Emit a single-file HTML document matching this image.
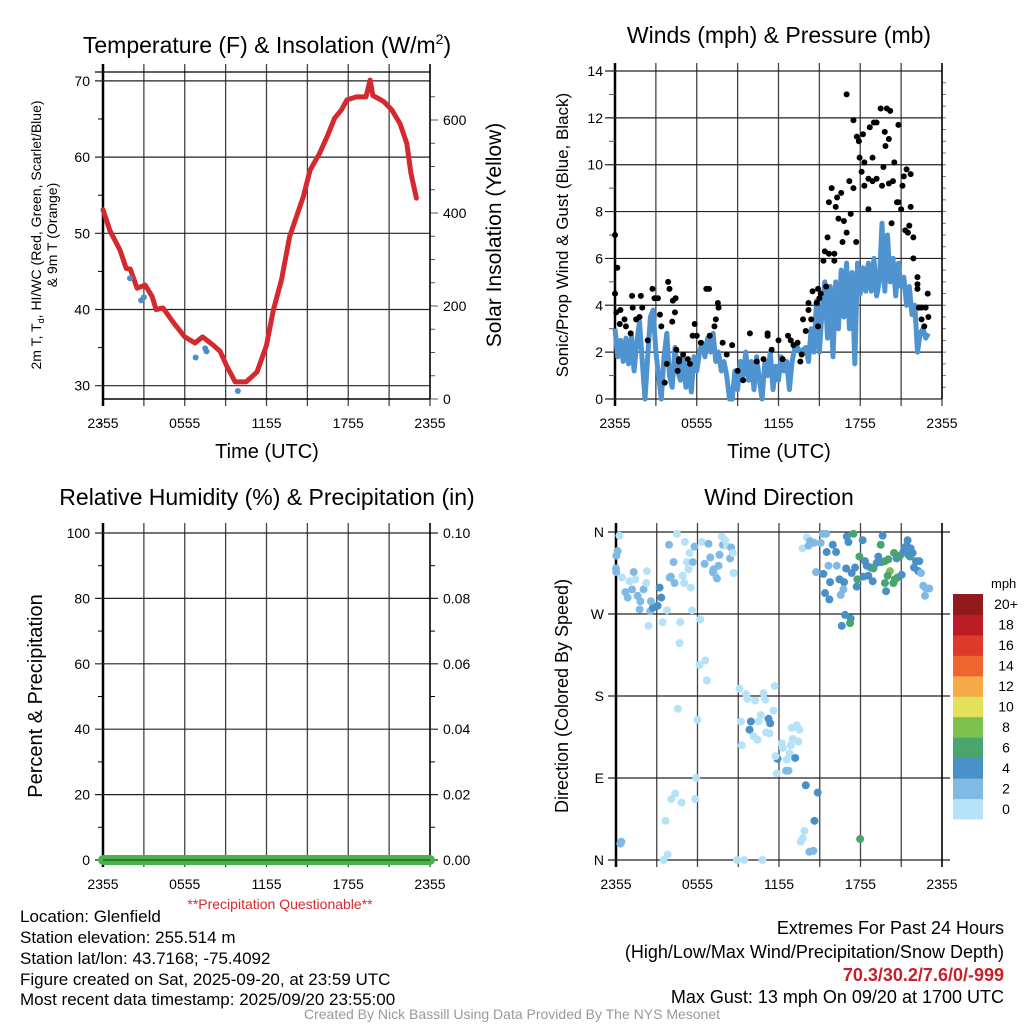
<!DOCTYPE html>
<html><head><meta charset="utf-8"><style>
body{margin:0;background:#fff;width:1024px;height:1024px;overflow:hidden}
svg text{font-family:"Liberation Sans",sans-serif;fill:#000}
</style></head><body>
<svg id="s" width="1024" height="1024" viewBox="0 0 1024 1024" xmlns="http://www.w3.org/2000/svg">
<text x="267" y="53" font-size="23" text-anchor="middle">Temperature (F) &amp; Insolation (W/m<tspan font-size="14" dy="-9">2</tspan><tspan dy="9">)</tspan></text>
<text x="779" y="43" font-size="23" text-anchor="middle">Winds (mph) &amp; Pressure (mb)</text>
<text x="267" y="505" font-size="23" text-anchor="middle">Relative Humidity (%) &amp; Precipitation (in)</text>
<text x="779" y="505" font-size="23" text-anchor="middle">Wind Direction</text>
<text transform="translate(41,235) rotate(-90)" font-size="14" text-anchor="middle">2m T, T<tspan font-size="9" dy="3">d</tspan><tspan dy="-3">, HI/WC (Red, Green, Scarlet/Blue)</tspan></text>
<text transform="translate(57,235) rotate(-90)" font-size="14" text-anchor="middle">&amp; 9m T (Orange)</text>
<text transform="translate(501,235) rotate(-90)" font-size="21" text-anchor="middle">Solar Insolation (Yellow)</text>
<text transform="translate(568,235) rotate(-90)" font-size="17" text-anchor="middle">Sonic/Prop Wind &amp; Gust (Blue, Black)</text>
<text transform="translate(42,696) rotate(-90)" font-size="20" text-anchor="middle">Percent &amp; Precipitation</text>
<text transform="translate(568,696) rotate(-90)" font-size="18" text-anchor="middle">Direction (Colored By Speed)</text>
<text x="267" y="458" font-size="20" text-anchor="middle">Time (UTC)</text>
<text x="779" y="458" font-size="20" text-anchor="middle">Time (UTC)</text>
<text x="280" y="909" font-size="14" style="fill:#d42a2f" text-anchor="middle">**Precipitation Questionable**</text>
<g font-size="17">
<text x="20" y="922">Location: Glenfield</text>
<text x="20" y="943">Station elevation: 255.514 m</text>
<text x="20" y="964">Station lat/lon: 43.7168; -75.4092</text>
<text x="20" y="985">Figure created on Sat, 2025-09-20, at 23:59 UTC</text>
<text x="20" y="1005">Most recent data timestamp: 2025/09/20 23:55:00</text>
</g>
<g font-size="18" text-anchor="end">
<text x="1004" y="934">Extremes For Past 24 Hours</text>
<text x="1004" y="958">(High/Low/Max Wind/Precipitation/Snow Depth)</text>
<text x="1004" y="981" font-weight="bold" style="fill:#c8202a">70.3/30.2/7.6/0/-999</text>
<text x="1004" y="1003">Max Gust: 13 mph On 09/20 at 1700 UTC</text>
</g>
<text x="512" y="1019" font-size="14" text-anchor="middle" style="fill:#999">Created By Nick Bassill Using Data Provided By The NYS Mesonet</text>
</svg>
<script>
// ---- data ----
const tempHours=[0,0.5,1.25,1.7,2.0,2.5,3.1,3.6,3.9,4.4,5.2,6.0,6.75,7.3,8.1,8.6,9.1,9.7,10.5,11.3,12.0,12.5,13.1,13.7,14.2,14.7,15.2,15.9,16.5,17.0,17.5,17.9,18.6,19.3,19.6,19.8,20.6,21.2,21.8,22.3,22.6,23.0];
const tempVals=[53.1,50.4,47.8,45.4,45.3,42.8,43.2,41.7,40.0,40.2,38.2,36.4,35.6,36.4,35.3,34.5,32.5,30.5,30.5,31.8,35.3,39.9,43.9,49.6,52.2,54.8,58.3,60.5,62.9,65.1,66.2,67.5,67.9,67.9,70.1,68.1,67.3,66.2,64.4,61.8,57.9,54.6];
const wcHours=[1.98,2.8,3.0,6.8,7.5,7.6,9.9];
const wcVals=[44.1,41.2,41.6,33.7,34.9,34.5,29.3];
const tempTicks=[30,40,50,60,70];
const insolTicks=[0,200,400,600];
const timeLabels=["2355","0555","1155","1755","2355"];
const windHours=[0,0.2,0.4,0.6,0.8,1.0,1.2,1.4,1.6,1.8,2.0,2.2,2.4,2.6,2.8,3.0,3.2,3.4,3.6,3.8,4.0,4.2,4.4,4.6,4.8,5.0,5.2,5.4,5.6,5.8,6.0,6.2,6.4,6.6,6.8,7.0,7.2,7.4,7.6,7.8,8.0,8.2,8.4,8.6,8.8,9.0,9.2,9.4,9.6,9.8,10.0,10.2,10.4,10.6,10.8,11.0,11.2,11.4,11.6,11.8,12.0,12.2,12.4,12.6,12.8,13.0,13.2,13.4,13.6,14.0,14.2,14.4,14.6,14.8,15.0,15.2,15.4,15.6,15.8,16.0,16.2,16.4,16.6,16.8,17.0,17.2,17.4,17.6,17.8,18.0,18.2,18.4,18.6,18.8,19.0,19.2,19.4,19.6,19.8,20.0,20.2,20.4,20.6,20.8,21.0,21.2,21.4,21.6,21.8,22.0,22.2,22.4,22.6,22.8,23.0];
const windVals=[3.0,1.8,2.5,1.6,2.6,1.5,2.7,1.2,2.4,3.3,1.6,0.0,1.8,3.5,3.8,2.0,1.0,0.0,1.8,2.8,1.0,0.5,2.2,1.2,0.8,1.8,0.5,1.5,0.3,1.8,1.2,2.0,2.4,1.8,2.6,2.0,2.8,1.6,2.0,1.2,1.6,1.0,0.0,0.0,1.2,0.4,1.6,1.0,2.0,0.8,1.6,0.4,1.8,0.8,0.0,1.6,1.0,2.0,0.4,1.4,0.8,1.8,1.2,1.6,0.4,1.6,2.2,2.2,2.0,2.2,1.6,3.0,2.0,4.2,2.0,3.8,5.0,2.6,4.8,1.8,5.0,3.0,5.5,3.5,5.8,3.0,5.4,1.5,5.8,4.5,5.6,4.6,5.8,4.6,6.0,4.4,5.0,7.5,4.6,7.0,5.0,6.0,4.4,5.8,4.8,5.2,4.0,4.8,3.6,4.0,2.0,2.8,3.0,2.6,2.8];
const gustHours=[0,0.17,0,0.1,0.4,0.35,0.7,0.8,1.25,1.3,1.15,1.55,1.9,2.0,1.8,2.75,2.9,3.15,3.3,3.4,2.4,3.9,4.0,4.25,4.45,4.4,4.2,4.5,4.7,5.0,4.7,5.35,5.5,3.8,3.65,4.6,5.85,6.0,5.7,6.3,6.7,6.9,6.95,7.3,7.4,7.55,7.6,7.9,8.2,8.6,9.0,9.4,9.9,10.4,10.9,11.2,11.2,11.5,12.0,12.3,12.7,12.9,13.1,13.4,13.7,13.6,13.8,14.0,14.2,14.2,14.5,14.9,15.1,15.0,15.5,14.8,14.9,14.4,15.3,15.4,15.6,15.7,16.1,16.1,15.7,15.9,16.2,16.3,16.4,16.6,16.8,17.0,16.7,17.0,17.2,17.3,17.5,17.7,17.5,17.75,17.9,17.95,18.2,18.3,18.1,18.3,18.6,18.6,18.7,18.9,19.0,19.2,18.9,19.2,19.5,19.6,19.7,19.8,19.85,19.95,20.1,20.1,20.2,20.3,20.4,20.5,20.7,20.8,20.8,21.0,21.1,21.2,21.4,21.3,21.5,21.6,21.7,21.7,21.9,21.9,22.2,22.2,22.2,22.95,22.3,22.5,22.8,22.5,23.0,22.7];
const gustVals=[7.0,5.6,4.5,3.7,3.8,3.2,3.4,3.1,4.4,3.9,2.8,3.4,4.4,3.9,3.5,4.7,4.3,4.3,3.6,3.1,2.5,5.0,4.7,4.2,4.3,3.7,3.3,2.1,1.7,1.9,1.6,1.7,1.5,1.5,0.7,1.2,3.2,2.7,2.7,2.4,4.7,4.7,2.7,3.1,3.4,4.1,3.9,2.4,1.9,2.3,1.2,0.8,2.8,1.6,1.7,2.8,2.7,2.1,2.5,1.7,2.7,2.5,2.3,2.4,1.9,1.6,3.4,2.9,3.8,4.1,4.6,4.7,4.5,4.3,4.8,4.1,3.1,3.4,5.9,6.3,6.9,6.2,5.9,6.2,8.4,9.0,8.2,8.6,7.7,8.8,7.6,7.1,6.7,13.0,9.3,7.9,9.0,6.7,11.9,11.2,11.0,10.3,11.3,10.1,9.7,9.1,9.4,8.1,11.6,10.3,11.8,11.8,9.3,9.4,12.4,9.1,9.9,11.4,10.8,12.4,11.1,9.2,12.3,7.5,9.3,10.1,8.4,11.7,8.4,8.1,9.1,9.5,9.8,7.2,7.1,7.4,9.6,8.2,6.9,6.0,5.2,4.9,4.7,4.5,3.9,3.9,3.9,3.4,3.5,3.1];
const windTicks=[0,2,4,6,8,10,12,14];
const dirHours=[0.25,0.12,0.02,0,0.02,0.44,1.0,1.3,1.42,0.69,0.86,1.18,1.59,1.79,1.74,2.03,2.28,2.23,2.52,2.72,3.06,2.57,3.33,3.21,2.4,3.43,3.75,3.95,4.04,4.31,4.24,3.9,4.49,4.73,4.68,5.07,5.22,5.34,5.51,5.59,4.9,5.02,5.42,5.66,5.78,6.2,6.32,6.52,6.57,6.15,6.69,6.81,6.94,7.18,7.3,7.43,7.13,7.55,7.62,7.79,7.87,8.04,8.16,8.4,8.48,8.6,8.65,4.56,6.0,5.91,5.83,4.36,4.07,4.83,3.65,3.8,3.5,0.32,0.39,9.09,9.58,9.68,10.25,10.86,10.98,11.69,11.59,10.66,10.49,9.93,9.83,9.19,10.12,10.42,11.23,11.35,11.3,11.05,9.26,12.2,12.28,12.77,12.87,13.31,13.5,12.94,13.01,13.43,13.19,12.57,11.89,11.74,11.84,12.52,12.7,13.97,14.85,14.61,13.87,13.75,13.6,14.24,14.53,8.9,9.44,10.78,17.97,13.73,14.04,14.29,14.58,14.17,15.07,15.22,15.47,15.51,15.96,16.2,14.73,15.27,15.64,16.25,15.76,16.45,16.79,16.74,16.54,15.39,15.71,16.99,17.11,17.48,18.16,17.92,17.6,17.35,17.77,17.72,16.94,16.86,17.28,16.62,17.23,18.33,18.46,18.75,18.95,18.21,18.58,18.9,19.19,19.31,19.49,19.63,19.56,19.8,20.05,20.17,20.0,19.8,19.88,20.42,20.47,20.66,20.54,20.71,20.91,21.03,21.15,21.27,21.47,21.64,21.69,21.84,21.94,22.08,22.33,22.25,22.45,22.62,22.82,23.06,22.75,21.4,21.52];
const dirDegs=[356,339,334,320,316,310,306,316,308,294,288,297,290,284,275,297,317,304,273,277,279,284,288,299,257,261,274,310,311,304,327,346,358,261,238,349,327,319,299,274,312,304,337,327,344,264,349,325,219,214,197,347,332,319,313,309,316,323,335,355,346,351,345,331,343,337,315,166,154,90,67,73,67,63,43,6,0,18,20,188,182,177,175,183,176,191,164,159,152,152,143,152,136,132,155,150,139,140,126,128,123,117,126,148,143,145,133,130,112,110,111,114,95,98,98,82,74,43,32,24,20,9,10,0,0,0,23,342,354,350,348,345,348,358,358,338,346,338,316,314,323,323,305,308,305,297,291,293,286,355,349,358,351,333,321,315,308,300,320,269,265,257,260,328,323,321,320,311,312,306,326,333,346,356,327,328,330,317,312,304,295,304,337,331,308,310,334,313,338,343,351,333,342,337,321,328,328,317,315,301,298,298,290,345,335];
const dirSpeeds=[1,3,3,3,3,1,1,3,1,3,3,3,3,3,3,3,1,1,3,5,5,3,5,5,1,1,1,3,3,3,3,3,1,1,1,1,1,1,1,1,1,1,1,3,3,1,1,3,1,1,1,3,3,3,1,3,3,3,3,1,3,1,1,3,3,1,1,1,1,1,1,1,1,1,1,1,1,3,3,1,1,1,1,1,1,1,1,1,1,5,5,1,1,1,5,5,1,1,1,1,1,1,1,1,1,1,1,1,5,1,5,1,1,3,3,5,5,5,1,1,1,3,3,1,1,1,7,1,1,3,3,3,3,3,3,5,5,5,3,5,3,3,5,5,5,3,3,5,5,5,5,7,5,7,5,5,7,5,5,5,5,5,7,5,5,5,7,5,5,5,5,5,7,5,5,7,7,9,7,7,5,7,7,5,7,7,7,5,5,5,5,7,5,5,5,5,5,5,3,3,3,3,3,5,5];
const dirTicks=["N","E","S","W","N"];
const speedLabels=["0","2","4","6","8","10","12","14","16","18","20+"];
const rhTicks=[0,20,40,60,80,100];
const precipTicks=["0.00","0.02","0.04","0.06","0.08","0.10"];
</script>
<script>
const NS="http://www.w3.org/2000/svg";
const svg=document.getElementById('s');
function mk(tag,attrs,parent){const e=document.createElementNS(NS,tag);for(const k in attrs)e.setAttribute(k,attrs[k]);(parent||svg).appendChild(e);return e;}
const speedColors=["#b5e2f8","#7fb9e4","#4a90c8","#48a56e","#7cc04e","#e5e05a","#f5a947","#ef6530","#de3a2c","#bc1c24","#921a1c"];
function colorFor(s){return speedColors[Math.min(10,Math.floor(s/2))];}

function panel(name,x0,x1,yTop,yBot,gridTop){
  const g=mk('g',{});
  
  
  const xs=h=>x0+(x1-x0)*h/24;
  for(let i=0;i<=8;i++){
    const x=xs(i*3);
    const l=mk('line',{x1:x,x2:x,y1:gridTop,y2:yBot+7,stroke:i==0?'#000':'#444','stroke-width':i==0?2.5:1.3},g);
    
    
  }
  for(let i=0;i<5;i++){
    const t=mk('text',{x:xs(i*6),y:yBot+29,'font-size':14,'text-anchor':'middle'},g);
    t.textContent=timeLabels[i];
    
    
  }
  return {g,xs};
}

// ---- Panel 1: temperature ----
{
  const x0=103,x1=430,yTop=72,yBot=399;
  const {g,xs}=panel('temperature-chart',x0,x1,yTop,yBot,yTop-8);
  const ty=v=>385.7-(v-30)*7.62;
  const iy=v=>399-v*0.465;
  mk('line',{x1:x0-8,x2:x1,y1:yTop,y2:yTop,stroke:'#000','stroke-width':1.3},g);
  mk('line',{x1:x0,x2:x1,y1:yBot,y2:yBot,stroke:'#000','stroke-width':1.5},g);
  tempTicks.forEach(v=>{
    const y=ty(v);
    mk('line',{x1:x0-8,x2:x1,y1:y,y2:y,stroke:'#222','stroke-width':1.2},g);
    const t=mk('text',{x:x0-13,y:y+5,'font-size':14,'text-anchor':'end'},g);
    t.textContent=v;
    
    
  });
  for(let v=25;v<=70;v+=5){if(v%10)mk('line',{x1:x0-5,x2:x0,y1:ty(v),y2:ty(v),stroke:'#000'},g);}
  for(let v=0;v<=650;v+=50){const y=iy(v);mk('line',{x1:x1,x2:x1+(v%200?5:8),y1:y,y2:y,stroke:'#555'},g);}
  mk('line',{x1:x1,x2:x1,y1:yTop-8,y2:yBot,stroke:'#000','stroke-width':1.5},g);
  insolTicks.forEach(v=>{
    const t=mk('text',{x:x1+13,y:iy(v)+5,'font-size':14},g);
    t.textContent=v;
    
    
  });
  const p=mk('path',{d:tempHours.map((h,i)=>(i?'L':'M')+xs(h).toFixed(1)+','+ty(tempVals[i]).toFixed(1)).join(''),fill:'none',stroke:'#d42a2f','stroke-width':5,'stroke-linejoin':'round','stroke-linecap':'round'},g);
  
  
  wcHours.forEach((h,i)=>{
    const c=mk('circle',{cx:xs(h),cy:ty(wcVals[i]),r:3,fill:'#4a90c8'},g);
    
    
  });
}

// ---- Panel 2: winds ----
{
  const x0=615,x1=942,yTop=71,yBot=399;
  const {g,xs}=panel('wind-chart',x0,x1,yTop,yBot,yTop-8);
  const wy=v=>yBot-v*(yBot-yTop)/14;
  windTicks.forEach(v=>{
    const y=wy(v);
    mk('line',{x1:x0-10,x2:x1,y1:y,y2:y,stroke:'#222','stroke-width':1.2},g);
    const t=mk('text',{x:x0-12,y:y+5,'font-size':14,'text-anchor':'end'},g);
    t.textContent=v;
    
    
  });
  for(let v=1;v<14;v+=2)mk('line',{x1:x0-6,x2:x0,y1:wy(v),y2:wy(v),stroke:'#555'},g);
  for(let v=0.5;v<14;v+=0.5)mk('line',{x1:x1,x2:x1+4,y1:wy(v),y2:wy(v),stroke:'#777'},g);
  mk('line',{x1:x1,x2:x1,y1:yTop-8,y2:yBot,stroke:'#000','stroke-width':1.5},g);
  const p=mk('path',{d:windHours.map((h,i)=>(i?'L':'M')+xs(h).toFixed(1)+','+wy(windVals[i]).toFixed(1)).join(''),fill:'none',stroke:'#4f94d0','stroke-width':5,'stroke-linejoin':'round'},g);
  
  
  gustHours.forEach((h,i)=>{
    const c=mk('circle',{cx:xs(h),cy:wy(gustVals[i]),r:3,fill:'#000'},g);
    
    
  });
}

// ---- Panel 3: RH & precip ----
{
  const x0=103,x1=430,yTop=533,yBot=860;
  const {g,xs}=panel('humidity-chart',x0,x1,yTop,yBot,523);
  const ry=v=>yBot-v*(yBot-yTop)/100;
  rhTicks.forEach((v,i)=>{
    const y=ry(v);
    mk('line',{x1:x0-8,x2:x1+8,y1:y,y2:y,stroke:'#222','stroke-width':1.2},g);
    const t=mk('text',{x:x0-13,y:y+5,'font-size':14,'text-anchor':'end'},g);
    t.textContent=v;
    
    
    const t2=mk('text',{x:x1+13,y:y+5,'font-size':14},g);
    t2.textContent=precipTicks[i];
    
    
  });
  for(let v=10;v<100;v+=20){mk('line',{x1:x0-5,x2:x0,y1:ry(v),y2:ry(v),stroke:'#000'},g);mk('line',{x1:x1,x2:x1+5,y1:ry(v),y2:ry(v),stroke:'#000'},g);}
  mk('line',{x1:x1,x2:x1,y1:523,y2:yBot,stroke:'#000','stroke-width':1.5},g);
  const b=mk('line',{x1:x0,x2:x1,y1:yBot,y2:yBot,stroke:'#49b04a','stroke-width':10,'stroke-linecap':'round'},g);
  
  
  mk('line',{x1:x0,x2:x1,y1:yBot,y2:yBot,stroke:'#1a5a1a','stroke-width':1.2},g);
}

// ---- Panel 4: wind direction ----
{
  const x0=616,x1=942,yTop=532,yBot=860;
  const {g,xs}=panel('wind-direction-chart',x0,x1,yTop,yBot,523);
  const dy=d=>yBot-d*(yBot-yTop)/360;
  dirTicks.forEach((lab,i)=>{
    const y=dy(i*90);
    mk('line',{x1:x0-8,x2:x1+8,y1:y,y2:y,stroke:'#222','stroke-width':1.2},g);
    const t=mk('text',{x:x0-12,y:y+5,'font-size':14,'text-anchor':'end'},g);
    t.textContent=lab;
    
    
  });
  mk('line',{x1:x1,x2:x1,y1:523,y2:yBot+7,stroke:'#000','stroke-width':1.5},g);
  dirHours.forEach((h,i)=>{
    const c=mk('circle',{cx:xs(h),cy:dy(dirDegs[i]),r:4,fill:colorFor(dirSpeeds[i])},g);
    
    
  });
  const cb=mk('g',{});
  
  
  const cbTop=594,cbBot=819,n=speedColors.length,hh=(cbBot-cbTop)/n;
  const t0=mk('text',{x:991,y:588,'font-size':13},cb);
  t0.textContent='mph';
  
  
  speedColors.forEach((c,i)=>{
    const y=cbBot-(i+1)*hh;
    mk('rect',{x:953,y:y,width:30,height:hh+0.5,fill:c},cb);
    const t=mk('text',{x:1006,y:y+hh/2+5,'font-size':14,'text-anchor':'middle'},cb);
    t.textContent=speedLabels[i];
    
    
  });
}
</script>
</body></html>
